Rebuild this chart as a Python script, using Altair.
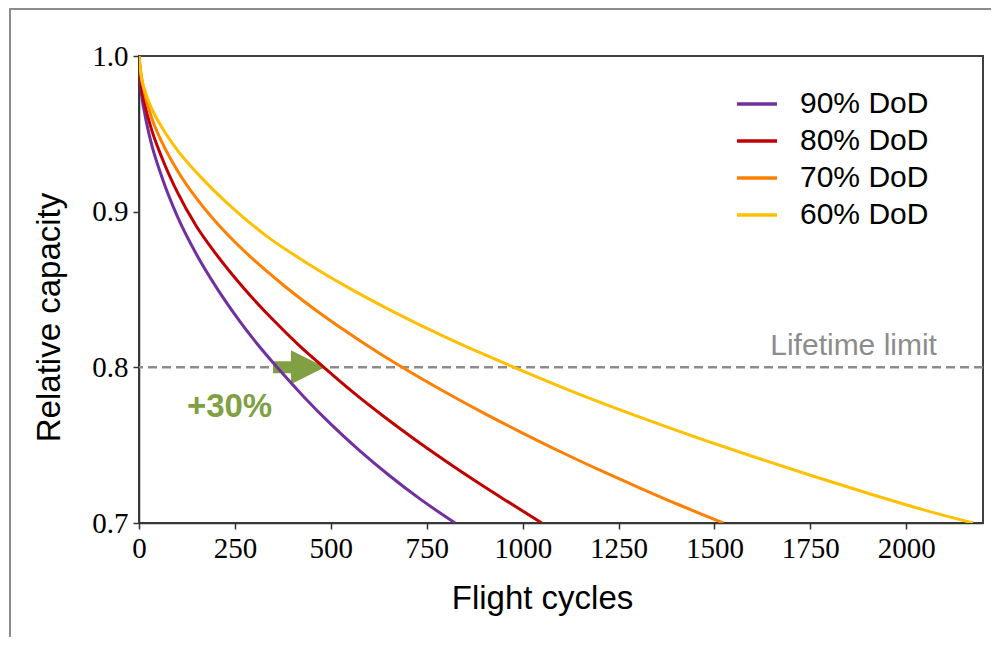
import altair as alt
import pandas as pd

# ---- data ----
series_names = ["90% DoD", "80% DoD", "70% DoD", "60% DoD"]
series_colors = ["#7030A0", "#C00000", "#FF8000", "#FFC000"]

cycles_90 = [0, 5, 15, 30, 60, 100, 150, 200, 260, 310, 360, 430, 500, 575, 650, 735, 824]
cap_90 = [1.0, 0.980, 0.963, 0.946, 0.922, 0.897, 0.8725, 0.852, 0.8305, 0.8145, 0.8000,
          0.7810, 0.7635, 0.7465, 0.7310, 0.7150, 0.7000]

cycles_80 = [0, 5, 15, 30, 60, 100, 150, 200, 275, 350, 420, 482, 560, 640, 720, 800, 880, 960, 1050]
cap_80 = [1.0, 0.983, 0.969, 0.955, 0.9345, 0.9125, 0.8905, 0.8731, 0.8503, 0.8304, 0.8135,
          0.8000, 0.7836, 0.7681, 0.7535, 0.7397, 0.7265, 0.7139, 0.7000]

cycles_70 = [0, 5, 15, 30, 60, 100, 150, 200, 250, 290, 380, 480, 580, 686, 800, 900, 982,
             1100, 1200, 1303, 1410, 1523]
cap_70 = [1.0, 0.989, 0.976, 0.9625, 0.9445, 0.9265, 0.9085, 0.8935, 0.8805, 0.8711, 0.8521,
          0.8333, 0.8165, 0.8000, 0.7838, 0.7704, 0.7600, 0.7456, 0.7341, 0.7228, 0.7114, 0.7000]

cycles_60 = [0, 5, 15, 30, 60, 100, 160, 240, 330, 430, 540, 660, 800, 978, 1150, 1300,
             1460, 1600, 1750, 1900, 2050, 2174]
cap_60 = [1.0, 0.988, 0.978, 0.968, 0.954, 0.9395, 0.9225, 0.9032, 0.8848, 0.8682, 0.8520,
          0.8361, 0.8192, 0.8000, 0.7825, 0.7685, 0.7544, 0.7427, 0.7307, 0.7191, 0.7081, 0.7000]

x_ticks = [0, 250, 500, 750, 1000, 1250, 1500, 1750, 2000]
y_ticks = [0.7, 0.8, 0.9, 1.0]

limit_value = [0.8]
limit_label = ["Lifetime limit"]
limit_label_x = [2080]

arrow_x = [417]
arrow_y = [0.8]
gain_label = ["+30%"]
gain_x = [236]
gain_y = [0.768]

# ---- build table ----
rows = []
for name, xs, ys in [
    ("90% DoD", cycles_90, cap_90),
    ("80% DoD", cycles_80, cap_80),
    ("70% DoD", cycles_70, cap_70),
    ("60% DoD", cycles_60, cap_60),
]:
    for xv, yv in zip(xs, ys):
        rows.append({"series": name, "cycles": xv, "cap": yv})
df = pd.DataFrame(rows)

GREEN = "#80A043"
GRAY = "#8C8C8C"

xscale = alt.Scale(domain=[0, 2200], nice=False, zero=False)
yscale = alt.Scale(domain=[0.7, 1.0], nice=False, zero=False)

x_axis = alt.Axis(values=x_ticks, format="d", title="Flight cycles", labelFlush=False,
                  titleX=403, titleY=85, titleBaseline="alphabetic",
                  titleAnchor="start", titleAlign="center")
y_axis = alt.Axis(values=y_ticks, format=".1f", title="Relative capacity", labelFlush=False,
                  titleX=-80, titleY=261, titleAngle=270, titleAlign="center",
                  titleBaseline="alphabetic", titleAnchor="start")

limit_df = pd.DataFrame({"y": limit_value, "label": limit_label, "x": limit_label_x})
rule = alt.Chart(limit_df).mark_rule(color=GRAY, strokeWidth=2.5, strokeDash=[9, 5]).encode(
    y=alt.Y("y:Q", scale=yscale)
)
limit_text = alt.Chart(limit_df).mark_text(
    align="right", baseline="alphabetic", dy=-12, font="Liberation Sans",
    fontSize=30, color=GRAY
).encode(x=alt.X("x:Q", scale=xscale), y=alt.Y("y:Q", scale=yscale), text="label:N")

arrow_path = "M-1,-0.23L-0.31,-0.23L-0.31,-0.654L1,0L-0.31,0.654L-0.31,0.23L-1,0.23Z"
arrow_df = pd.DataFrame({"x": arrow_x, "y": arrow_y})
arrow = alt.Chart(arrow_df).mark_point(
    shape=arrow_path, size=2704, filled=True, color=GREEN, opacity=1, strokeWidth=0
).encode(x=alt.X("x:Q", scale=xscale), y=alt.Y("y:Q", scale=yscale))

gain_df = pd.DataFrame({"x": gain_x, "y": gain_y, "label": gain_label})
gain_text = alt.Chart(gain_df).mark_text(
    align="center", baseline="alphabetic", font="Liberation Sans", fontWeight="bold",
    fontSize=33, color=GREEN
).encode(x=alt.X("x:Q", scale=xscale), y=alt.Y("y:Q", scale=yscale), text="label:N")

lines = alt.Chart(df).mark_line(strokeWidth=3, interpolate="monotone", clip=True).encode(
    x=alt.X("cycles:Q", scale=xscale, axis=x_axis),
    y=alt.Y("cap:Q", scale=yscale, axis=y_axis),
    color=alt.Color(
        "series:N",
        scale=alt.Scale(domain=series_names, range=series_colors),
        sort=series_names,
        legend=alt.Legend(
            title=None, orient="none", legendX=596, legendY=26,
            symbolType="stroke", symbolSize=1600, symbolStrokeWidth=3.5,
            labelFont="Liberation Sans", labelFontSize=30, labelColor="black",
            labelOffset=21, rowPadding=0, padding=0,
        ),
    ),
    order=alt.Order("cycles:Q"),
)

frame_df = pd.DataFrame({"a": [0]})
frame_left = alt.Chart(frame_df).mark_rule(color=GRAY, strokeWidth=2).encode(
    x=alt.value(-129), y=alt.value(-48), y2=alt.value(640)
)
frame_top = alt.Chart(frame_df).mark_rule(color=GRAY, strokeWidth=2).encode(
    x=alt.value(-129), x2=alt.value(870), y=alt.value(-47)
)

chart = alt.layer(
    frame_left, frame_top, rule, arrow, lines, limit_text, gain_text
).properties(
    width=844, height=467,
    padding={"left": 131, "top": 48, "right": 8, "bottom": 114},
    autosize=alt.AutoSizeParams(type="none"),
    background="white",
).configure_view(
    stroke="#404040", strokeWidth=2
).configure_axis(
    labelFont="Liberation Serif", labelFontSize=29, labelColor="black",
    titleFont="Liberation Sans", titleFontSize=33, titleColor="black", titleFontWeight="normal",
    domainColor="#333333", domainWidth=1.5, tickColor="#333333", tickWidth=1.5,
    tickSize=6, labelPadding=5, grid=False,
)

chart.save("out.html", embed_options={"renderer": "svg", "actions": False})
